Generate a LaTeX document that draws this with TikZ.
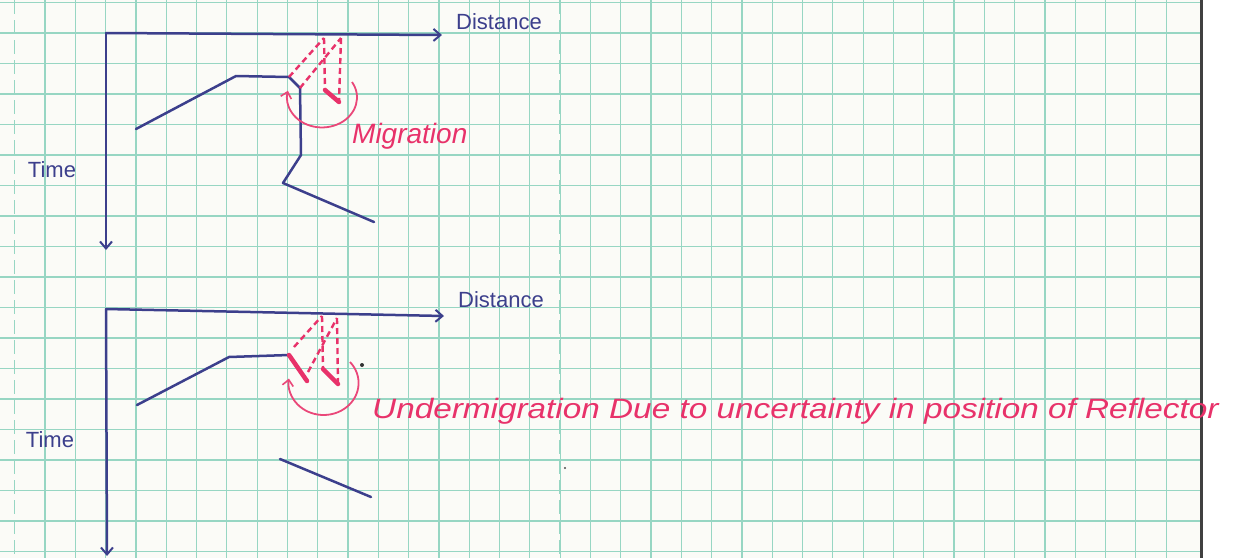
\documentclass[tikz,border=0pt]{standalone}
\usepackage{fontspec}
\setmainfont{Liberation Sans}
\usetikzlibrary{arrows.meta}
\definecolor{paper}{HTML}{FBFBF7}
\definecolor{gridc}{HTML}{97D6C3}
\definecolor{ink}{HTML}{3C3F8C}
\definecolor{redink}{HTML}{E8326A}
\begin{document}
\begin{tikzpicture}[x=1pt,y=-1pt,
  gridline/.style={draw=gridc,line width=1.2pt},
  inkline/.style={draw=ink,line width=2.5pt,line cap=round,line join=round},
  axis/.style={inkline,-{Straight Barb[length=7pt,width=12pt,line width=2pt]}},
  reddash/.style={draw=redink,line width=2.4pt,dash pattern=on 6pt off 4pt},
  redthick/.style={draw=redink,line width=4.5pt,line cap=round},
  redarc/.style={draw=redink!90,line width=1.8pt,-{Straight Barb[length=6pt,width=11pt,line width=1.6pt]}},
  bluetext/.style={text=ink,inner sep=0pt,font=\fontsize{22}{24}\selectfont},
  redtext/.style={text=redink,inner sep=0pt,font=\itshape\fontsize{28}{30}\selectfont}
]
\useasboundingbox (0,0) rectangle (1251,558);
% paper
\fill[paper] (0,0) rectangle (1251,558);
\fill[white] (1202,0) rectangle (1251,558);
% graph paper grid
\foreach \k in {1,...,38}
  \draw[gridline] ({14.7+30.3*\k},0) -- ({14.7+30.3*\k},558);
\draw[gridline,dash pattern=on 14pt off 6pt] (14.7,0) -- (14.7,558);
\draw[gridline,dash pattern=on 14pt off 6pt] (559.9,0) -- (559.9,558);
\foreach \k in {0,...,18}
  \draw[gridline] (0,{2.5+30.5*\k}) -- (1200,{2.5+30.5*\k});
% page edge
\draw[line width=3pt,black!75] (1201,0) -- (1201,558);

% ---------- upper section: migration ----------
\coordinate (o1) at (106,33);
\coordinate (x1) at (442,35);
\coordinate (t1) at (106,250);
\draw[axis] (o1) -- (x1);
\draw[axis] (o1) -- (t1);
\node[bluetext,anchor=west] (dist1) at (456,22) {Distance};
\node[bluetext] (time1) at (52,170) {Time};

\coordinate (a1) at (136,129);
\coordinate (a2) at (236,76);
\coordinate (a3) at (289,77);
\coordinate (a4) at (300,88);
\coordinate (a5) at (301,155);
\coordinate (a6) at (283,183);
\coordinate (a7) at (374,222);
\draw[inkline] (a1) -- (a2) -- (a3) -- (a4) -- (a5) -- (a6) -- (a7);

\coordinate (s1) at (324,38);
\coordinate (s2) at (341,38);
\coordinate (m1) at (325,90);
\coordinate (m2) at (339,102);
\draw[reddash] (a3) -- (s1);
\draw[reddash] (a4) -- (s2);
\draw[reddash] (s1) -- (m1);
\draw[reddash] (s2) -- (m2);
\draw[redthick] (m1) -- (m2);
\draw[redarc] (352,82) arc[start angle=-31,end angle=193,x radius=35,y radius=30];
\node[redtext,anchor=west] (mig) at (352,136) {Migration};

% ---------- lower section: undermigration ----------
\coordinate (o2) at (106,309);
\coordinate (x2) at (444,316);
\coordinate (t2) at (107,556);
\draw[axis] (o2) -- (x2);
\draw[axis] (o2) -- (t2);
\node[bluetext,anchor=west] (dist2) at (458,300) {Distance};
\node[bluetext] (time2) at (50,440) {Time};

\coordinate (b1) at (137,405);
\coordinate (b2) at (229,357);
\coordinate (b3) at (289,355);
\coordinate (b4) at (307,381);
\coordinate (c1) at (280,459);
\coordinate (c2) at (371,497);
\draw[inkline] (b1) -- (b2) -- (b3);
\draw[inkline] (c1) -- (c2);
\draw[redthick] (b3) -- (b4);

\coordinate (u1) at (322,316);
\coordinate (u2) at (337,318);
\coordinate (n1) at (323,369);
\coordinate (n2) at (338,384);
\draw[reddash] (294,347) -- (u1);
\draw[reddash] (308,372) -- (u2);
\draw[reddash] (u1) -- (n1);
\draw[reddash] (u2) -- (n2);
\draw[redthick] (n1) -- (n2);
\draw[redarc] (350,362) arc[start angle=-41,end angle=188,x radius=35,y radius=32];
\fill[black!80] (362,365) circle (2);
\fill[black!70] (565,468) circle (1.2);
\node[redtext,anchor=west] (under) at (372,411)
  {\scalebox{1.19}[1]{Undermigration Due to uncertainty in position of Reflector}};
\end{tikzpicture}
\end{document}
